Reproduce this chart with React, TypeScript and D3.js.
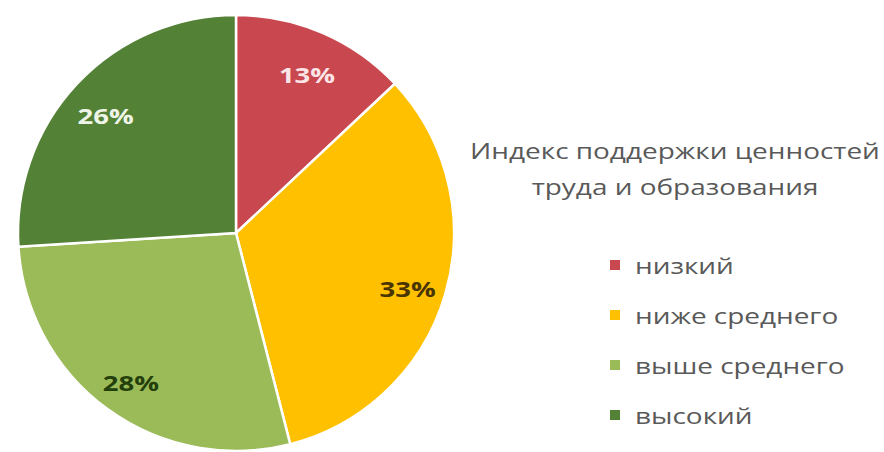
import React from "react";
import * as d3 from "d3";

const categories = ["низкий", "ниже среднего", "выше среднего", "высокий"];
const values = [13, 33, 28, 26];
const labels = ["13%", "33%", "28%", "26%"];
const colors = ["#c9474f", "#ffc000", "#9bbb59", "#538135"];
const labelColors = ["#fbe4e6", "#4a3500", "#23400c", "#eef5e8"];
const titleLines = ["Индекс поддержки ценностей", "труда и образования"];

export default function App() {
  const W = 884, H = 452;
  const cx = 236, cy = 233, R = 218;
  const pie = d3.pie<number>().sort(null).value((d) => d);
  const arcs = pie(values);
  const arc = d3.arc<d3.PieArcDatum<number>>().innerRadius(0).outerRadius(R);
  const labelArc = d3.arc<d3.PieArcDatum<number>>().innerRadius(R * 0.82).outerRadius(R * 0.82);
  const font = "'Open Sans', 'Liberation Sans', sans-serif";
  const sx = 1.27;
  return (
    <svg width={W} height={H} style={{ position: "absolute", left: 0, top: 0, background: "#fff" }}>
      <g transform={`translate(${cx},${cy})`}>
        {arcs.map((a, i) => (
          <path key={i} d={arc(a) || ""} fill={colors[i]} stroke="#ffffff" strokeWidth={2.5} />
        ))}
        {arcs.map((a, i) => {
          const [x, y] = labelArc.centroid(a);
          return (
            <text key={i} transform={`translate(${x},${y + 5}) scale(1.25,1)`} textAnchor="middle" dominantBaseline="central"
              fontFamily={font} fontWeight="bold" fontSize={22} fill={labelColors[i]}>
              {labels[i]}
            </text>
          );
        })}
      </g>
      {titleLines.map((t, i) => (
        <text key={i} transform={`translate(675,${150 + i * 36}) scale(${sx},1)`} textAnchor="middle" dominantBaseline="central"
          fontFamily={font} fontSize={22} fill="#595959">{t}</text>
      ))}
      {categories.map((c, i) => (
        <g key={i} transform={`translate(615,${265 + i * 50})`}>
          <rect x={-5} y={-5} width={10} height={10} fill={colors[i]} />
          <text transform={`translate(20,0) scale(${sx},1)`} dominantBaseline="central" fontFamily={font} fontSize={22} fill="#595959">{c}</text>
        </g>
      ))}
    </svg>
  );
}
